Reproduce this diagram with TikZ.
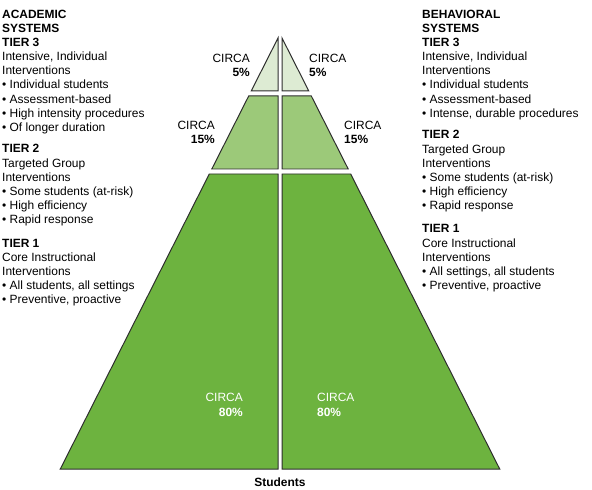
\documentclass[tikz,border=0pt]{standalone}
\usepackage{fontspec}
\setmainfont{Liberation Sans}
\definecolor{gA}{HTML}{DDEBD3}
\definecolor{gB}{HTML}{9CC979}
\definecolor{gC}{HTML}{6DB33F}
\definecolor{edgec}{HTML}{2E2E2E}
\tikzset{
  piece/.style={draw=edgec, line width=1pt, line join=miter},
  txt/.style={inner sep=0pt, anchor=base west, font=\fontsize{12}{14}\selectfont},
  pctl/.style={inner sep=0pt, anchor=base east, font=\fontsize{12}{14}\selectfont},
  pctr/.style={inner sep=0pt, anchor=base west, font=\fontsize{12}{14}\selectfont},
}
\begin{document}
\begin{tikzpicture}[x=1bp,y=-1bp]
\useasboundingbox (0,0) rectangle (592,490);
% pyramid pieces
\draw[piece, fill=gA] (278,38) -- (278,91) -- (251.2,91) -- cycle;
\draw[piece, fill=gA] (282,38) -- (282,91) -- (308.8,91) -- cycle;
\draw[piece, fill=gB] (278,96) -- (278,169) -- (211.8,169) -- (248.7,96) -- cycle;
\draw[piece, fill=gB] (282,96) -- (282,169) -- (348.2,169) -- (311.3,96) -- cycle;
\draw[piece, fill=gC] (278,174) -- (278,469) -- (60.3,469) -- (209.3,174) -- cycle;
\draw[piece, fill=gC] (282,174) -- (282,469) -- (499.7,469) -- (350.7,174) -- cycle;
% percentages
\node[pctl] (c5l) at (250,62.5) {CIRCA};
\node[pctl] (p5l) at (250,77) {\textbf{5\%}};
\node[pctr] (c5r) at (309,62.5) {CIRCA};
\node[pctr] (p5r) at (309,77) {\textbf{5\%}};
\node[pctl] (c15l) at (215,129.5) {CIRCA};
\node[pctl] (p15l) at (215,144) {\textbf{15\%}};
\node[pctr] (c15r) at (344,129.5) {CIRCA};
\node[pctr] (p15r) at (344,144) {\textbf{15\%}};
\node[pctl, text=white] (c80l) at (243,401) {CIRCA};
\node[pctl, text=white] (p80l) at (243,416) {\textbf{80\%}};
\node[pctr, text=white] (c80r) at (317,401) {CIRCA};
\node[pctr, text=white] (p80r) at (317,416) {\textbf{80\%}};
\node[inner sep=0pt, anchor=base, font=\fontsize{12}{14}\selectfont\bfseries] (stud) at (280,486) {Students};
% left column
\foreach \t [count=\i] in {{\textbf{ACADEMIC}},{\textbf{SYSTEMS}},{\textbf{TIER 3}},{Intensive, Individual},{Interventions},{• Individual students},{• Assessment-based},{• High intensity procedures},{• Of longer duration}}
  \node[txt] (la\i) at (2,{18.5+(\i-1)*14.1}) {\t};
\foreach \t [count=\i] in {{\textbf{TIER 2}},{Targeted Group},{Interventions},{• Some students (at-risk)},{• High efficiency},{• Rapid response}}
  \node[txt] (lb\i) at (2,{153+(\i-1)*14.1}) {\t};
\foreach \t [count=\i] in {{\textbf{TIER 1}},{Core Instructional},{Interventions},{• All students, all settings},{• Preventive, proactive}}
  \node[txt] (lc\i) at (2,{247+(\i-1)*14.1}) {\t};
% right column
\foreach \t [count=\i] in {{\textbf{BEHAVIORAL}},{\textbf{SYSTEMS}},{\textbf{TIER 3}},{Intensive, Individual},{Interventions},{• Individual students},{• Assessment-based},{• Intense, durable procedures}}
  \node[txt] (ra\i) at (422,{18.5+(\i-1)*14.1}) {\t};
\foreach \t [count=\i] in {{\textbf{TIER 2}},{Targeted Group},{Interventions},{• Some students (at-risk)},{• High efficiency},{• Rapid response}}
  \node[txt] (rb\i) at (422,{139+(\i-1)*14.1}) {\t};
\foreach \t [count=\i] in {{\textbf{TIER 1}},{Core Instructional},{Interventions},{• All settings, all students},{• Preventive, proactive}}
  \node[txt] (rc\i) at (422,{233+(\i-1)*14.1}) {\t};
\end{tikzpicture}
\end{document}
